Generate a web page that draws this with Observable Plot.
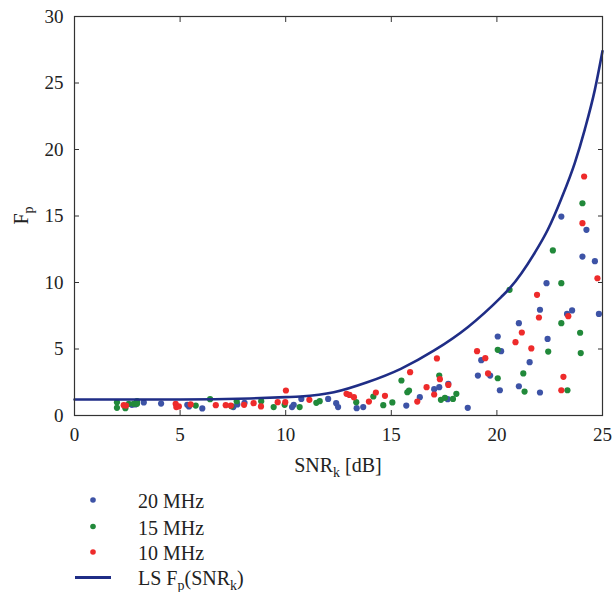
<!DOCTYPE html>
<html>
<head>
<meta charset="utf-8">
<script src="https://cdn.jsdelivr.net/npm/d3@7"></script>
<script src="https://cdn.jsdelivr.net/npm/@observablehq/plot@0.6"></script>
<style>
  html, body { margin: 0; padding: 0; background: #fff; }
  body { font-family: 'Liberation Serif', 'DejaVu Serif', serif; width: 614px; }
  #chart svg, #legend svg { display: block; }
</style>
</head>
<body>
<div id="chart"></div>
<div id="legend"></div>
<script>
// ---- tick labels ----
const xTicks = [0, 5, 10, 15, 20, 25];
const yTicks = [0, 5, 10, 15, 20, 25, 30];

// ---- series names ----
const seriesNames = ["20 MHz", "15 MHz", "10 MHz"];
const seriesColors = ["#3d53a6", "#21893a", "#ee2b2b"];

// ---- 20 MHz ----
const snr20 = [2.72, 2.88, 3.28, 4.1, 5.34, 5.42, 6.05, 7.52, 7.71, 8.05, 10.3, 10.38, 10.74, 12.01, 12.39, 12.48, 13.36, 13.67, 15.71, 16.35, 17.03, 17.27, 17.67, 17.7, 18.62, 19.1, 19.26, 19.68, 20.04, 20.14, 20.2, 21.04, 21.04, 21.55, 22.04, 22.04, 22.35, 22.4, 23.05, 23.32, 23.56, 24.05, 24.24, 24.64, 24.83];
const fp20  = [0.8, 0.83, 0.98, 0.9, 0.8, 0.68, 0.53, 0.63, 0.83, 0.95, 0.63, 0.8, 1.25, 1.25, 0.93, 0.63, 0.55, 0.63, 0.75, 1.38, 1.98, 2.13, 1.23, 2.38, 0.58, 3.0, 4.16, 3.0, 5.94, 1.9, 4.84, 6.94, 2.2, 4.01, 7.95, 1.73, 9.95, 5.76, 14.96, 7.64, 7.9, 11.95, 13.96, 11.6, 7.64];

// ---- 15 MHz ----
const snr15 = [2.01, 2.01, 2.41, 2.57, 2.8, 2.96, 2.96, 5.74, 6.42, 7.43, 7.68, 8.84, 9.43, 9.95, 10.66, 11.45, 11.61, 13.34, 14.15, 14.62, 15.05, 15.48, 15.76, 15.84, 17.27, 17.35, 17.54, 17.92, 18.08, 20.04, 20.04, 20.6, 21.25, 21.31, 22.43, 22.65, 23.05, 23.05, 23.34, 23.94, 23.97, 24.05];
const fp15  = [1.0, 0.58, 0.55, 0.88, 0.88, 1.08, 0.88, 0.75, 1.23, 0.7, 1.08, 1.08, 0.63, 0.8, 0.63, 0.95, 1.08, 1.0, 1.43, 0.78, 0.98, 2.63, 1.75, 1.88, 3.0, 1.18, 1.33, 1.25, 1.63, 2.8, 4.94, 9.45, 3.16, 1.8, 4.81, 12.41, 9.95, 6.94, 1.9, 6.22, 4.69, 15.96];

// ---- 10 MHz ----
const snr10 = [2.33, 2.44, 4.79, 4.82, 4.94, 5.5, 6.69, 7.16, 7.4, 8.03, 8.48, 8.83, 9.62, 9.98, 10.01, 11.12, 12.88, 13.02, 13.23, 13.94, 14.27, 14.7, 15.89, 16.23, 16.67, 17.03, 17.16, 17.3, 17.7, 19.06, 19.45, 19.58, 20.88, 21.18, 21.63, 21.9, 21.99, 23.05, 23.15, 23.38, 24.05, 24.13, 24.76];
const fp10  = [0.78, 0.75, 0.88, 0.63, 0.68, 0.83, 0.78, 0.78, 0.75, 0.8, 0.93, 0.68, 1.0, 1.0, 1.88, 1.18, 1.63, 1.55, 1.38, 1.05, 1.73, 1.48, 3.26, 1.05, 2.13, 1.58, 4.29, 2.73, 2.3, 4.84, 4.31, 3.16, 5.51, 6.24, 5.04, 9.07, 7.37, 1.9, 2.91, 7.47, 14.46, 17.97, 10.32];

// ---- LS fit curve ----
const curveSnr = [0, 5, 8.3, 10, 10.69, 12.28, 13.86, 15.45, 17.03, 18.62, 20.2, 20.6, 21.78, 22.42, 23.05, 23.69, 24.16, 24.64, 25];
const curveFp  = [1.2, 1.2, 1.28, 1.38, 1.43, 1.75, 2.5, 3.51, 4.89, 6.64, 8.9, 9.55, 12.2, 14.0, 16.3, 19.0, 21.5, 24.5, 27.4];

// ---- build tables ----
const points = [];
[[snr20, fp20], [snr15, fp15], [snr10, fp10]].forEach(([xs, ys], i) => {
  xs.forEach((x, j) => points.push({ snr: x, fp: ys[j], series: seriesNames[i] }));
});
const curve = curveSnr.map((x, i) => ({ snr: x, fp: curveFp[i] }));

const FONT = "'Liberation Serif', 'DejaVu Serif', serif";
const lineColor = "#1f2d86";

const plot = Plot.plot({
  width: 614,
  height: 480,
  marginLeft: 74,
  marginRight: 12,
  marginTop: 16,
  marginBottom: 65,
  style: { fontFamily: FONT, fontSize: "19px", color: "#222", background: "#fff", overflow: "visible" },
  x: { domain: [0, 25] },
  y: { domain: [0, 30] },
  color: { domain: seriesNames, range: seriesColors },
  marks: [
    Plot.dot(points, { x: "snr", y: "fp", fill: "series", r: 3.1 }),
    Plot.line(curve, { x: "snr", y: "fp", stroke: lineColor, strokeWidth: 2.6, curve: "monotone-x" }),
    Plot.frame({ stroke: "#333", strokeWidth: 1.2 }),
    Plot.axisX(xTicks, { anchor: "bottom", tickSize: -5, tickPadding: 17, label: null, fontSize: 19, fontFamily: FONT, stroke: "#333" }),
    Plot.axisX(xTicks, { anchor: "top", tickSize: -5, text: null, label: null, stroke: "#333" }),
    Plot.axisY(yTicks, { anchor: "left", tickSize: -5, tickPadding: 16, label: null, fontSize: 19, fontFamily: FONT, stroke: "#333" }),
    Plot.axisY(yTicks, { anchor: "right", tickSize: -5, text: null, label: null, stroke: "#333" })
  ]
});

document.getElementById("chart").appendChild(plot);

// axis titles with subscripts
const svg = d3.select(plot);
const xs = plot.scale("x"), ys = plot.scale("y");
const xMid = (xs.apply(0) + xs.apply(25)) / 2;
const yMid = (ys.apply(0) + ys.apply(30)) / 2;

const xl = svg.append("text")
  .attr("x", xMid).attr("y", 472)
  .attr("text-anchor", "middle")
  .style("font-family", FONT).attr("font-size", 20).attr("fill", "#222");
xl.append("tspan").text("SNR");
xl.append("tspan").attr("font-size", 14).attr("dy", 5).text("k");
xl.append("tspan").attr("dy", -5).text(" [dB]");

const yl = svg.append("text")
  .attr("transform", `translate(28,${yMid}) rotate(-90)`)
  .attr("text-anchor", "middle")
  .style("font-family", FONT).attr("font-size", 20).attr("fill", "#222");
yl.append("tspan").text("F");
yl.append("tspan").attr("font-size", 14).attr("dy", 5).text("p");

// legend below the plot
const leg = d3.select("#legend").append("svg")
  .attr("width", 614).attr("height", 112);
const rowY = [20, 46.5, 72, 97.5];
seriesNames.forEach((name, i) => {
  leg.append("circle").attr("cx", 93).attr("cy", rowY[i]).attr("r", 2.8).attr("fill", seriesColors[i]);
  leg.append("text").attr("x", 138).attr("y", rowY[i] + 8)
    .style("font-family", FONT).attr("font-size", 20).attr("fill", "#222").text(name);
});
leg.append("line").attr("x1", 75).attr("x2", 111).attr("y1", rowY[3]).attr("y2", rowY[3])
  .attr("stroke", lineColor).attr("stroke-width", 3);
const lt = leg.append("text").attr("x", 138).attr("y", rowY[3] + 7)
  .style("font-family", FONT).attr("font-size", 20).attr("fill", "#222");
lt.append("tspan").text("LS F");
lt.append("tspan").attr("font-size", 14).attr("dy", 5).text("p");
lt.append("tspan").attr("dy", -5).text("(SNR");
lt.append("tspan").attr("font-size", 14).attr("dy", 5).text("k");
lt.append("tspan").attr("dy", -5).text(")");
</script>
</body>
</html>
